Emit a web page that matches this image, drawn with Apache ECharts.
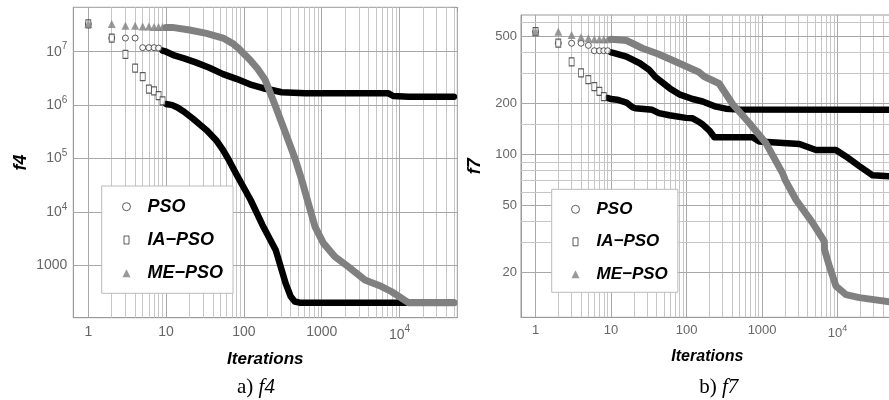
<!DOCTYPE html>
<html><head><meta charset="utf-8">
<script src="https://cdn.jsdelivr.net/npm/echarts@6/dist/echarts.min.js"></script>
<style>html,body{margin:0;padding:0;background:#fff}#c{width:889px;height:400px}</style>
</head><body><div id="c"></div>
<script>
// ---------- names / ticks ----------
const seriesNames = ['PSO', 'IA\u2212PSO', 'ME\u2212PSO'];
const xTickValues = [1, 10, 100, 1000, 10000];
const f4TickValues = [1000, 10000, 100000, 1000000, 10000000];
const f7TickValues = [20, 50, 100, 200, 500];
const f7MinorGridValues = [30, 40, 60, 70, 80, 90, 150, 300, 400, 600];

// ---------- f4 (left panel) data: [iteration, value] ----------
const psoF4Early = [[1,3.3e7],[2,1.8e7],[3,1.8e7],[4,1.8e7],[5,1.19e7],[6,1.19e7],[7,1.19e7],[8,1.17e7]];
const psoF4Band = [[9,1.05e7],[10,1.0e7],[13,8.4e6],[17,7.5e6],[24,6.3e6],[36,5.0e6],[54,3.8e6],[80,3.1e6],[119,2.45e6],[176,2.07e6],[228,1.92e6],[306,1.74e6],[610,1.66e6],[7200,1.66e6],[8300,1.48e6],[13000,1.44e6],[50000,1.43e6]];
const iaF4Early = [[1,3.3e7],[2,1.8e7],[3,8.9e6],[4,4.9e6],[5,3.4e6],[6,2.0e6],[7,1.85e6],[8,1.5e6],[9,1.2e6]];
const iaF4Band = [[10,1.05e6],[12,1.0e6],[14,9.0e5],[17,7.5e5],[22,5.6e5],[33,3.4e5],[44,2.2e5],[54,1.44e5],[65,9e4],[81,4.9e4],[122,1.67e4],[173,5.7e3],[256,1.94e3],[344,4.6e2],[400,2.6e2],[450,2.1e2],[520,2.0e2],[50000,2.0e2]];
const meF4Early = [[1,3.3e7],[2,3.3e7],[3,3.05e7],[4,3.05e7],[5,2.95e7],[6,2.95e7],[7,2.9e7],[8,2.9e7],[9,2.9e7]];
const meF4Band = [[10,2.85e7],[12,2.85e7],[20,2.55e7],[33,2.2e7],[54,1.8e7],[73,1.4e7],[88,1.1e7],[120,7e6],[150,4.8e6],[187,3e6],[251,1e6],[337,3.2e5],[454,1e5],[553,4e4],[673,1.45e4],[820,5.3e3],[1050,2.6e3],[1480,1.45e3],[2200,9.4e2],[3600,5.3e2],[5900,4.0e2],[7940,3.2e2],[13000,2.0e2],[50000,2.0e2]];

// ---------- f7 (right panel) data ----------
const psoF7Early = [[1,530],[2,453],[3,453],[4,453],[5,440],[6,409],[7,409],[8,409],[9,409]];
const psoF7Band = [[10,400],[11,396],[16,378],[24,345],[32,315],[39,285],[48,265],[60,245],[80,226],[120,212],[163,205],[245,191],[330,186],[500,184],[50000,183]];
const iaF7Early = [[1,530],[2,453],[3,352],[4,303],[5,276],[6,251],[7,235],[8,219]];
const iaF7Band = [[9,215],[10,212],[12,210],[16,202],[19,190],[21,187],[35,183],[43,175],[59,170],[98,164],[120,163],[147,155],[163,150],[200,138],[233,126],[750,126],[918,119],[3120,115],[5180,106],[9520,106],[12900,97],[19400,85],[29100,75],[50000,74]];
const meF7Early = [[1,530],[2,530],[3,507],[4,491],[5,484],[6,478],[7,478],[8,478],[9,478]];
const meF7Band = [[10,478],[16,470],[19,453],[26,423],[43,390],[72,352],[120,318],[147,305],[171,288],[269,262],[406,198],[676,153],[1127,116],[1872,77],[2020,70.6],[2810,53.8],[4670,39.3],[6670,30.5],[6700,27.3],[7770,21.8],[9520,16.6],[12900,14.8],[19400,14.2],[50000,13.4]];

// ---------- layout / styling ----------
const FONT = 'Liberation Sans';
const X_MIN = Math.pow(10, -0.193), X_MAX = Math.pow(10, 4.743);
const F4_MIN = Math.pow(10, 2.019), F4_MAX = Math.pow(10, 7.831);
const F7_MIN = Math.pow(10, 1.036), F7_MAX = Math.pow(10, 2.823);
const LABEL_COLOR = '#666';
const FRAME = '#9a9a9a';
const majorLine = {color: '#a8a8a8', width: 1, type: 'solid'};
const minorLine = {color: '#c6c6c6', width: 1, type: 'solid'};

function isPow10(v) { const e = Math.log10(v); return Math.abs(e - Math.round(e)) < 1e-9; }
const xGridValues = [];
for (let d = 0; d <= 4; d++) for (let k = 1; k <= 9; k++) { const v = k * Math.pow(10, d); if (v <= X_MAX) xGridValues.push(v); }

function powLabel(fs) {
  return function (v) {
    const e = Math.round(Math.log10(v));
    if (e >= 4) return '{b|10}{s|' + e + '}';
    return String(Math.round(v));
  };
}
function richFor(fs) {
  return { b: {fontSize: fs, color: LABEL_COLOR, fontFamily: FONT},
           s: {fontSize: fs - 4, color: LABEL_COLOR, fontFamily: FONT, padding: [0, 0, 10, 0]} };
}

function xAxisMain(gi, fs, gap) {
  return { type: 'log', gridIndex: gi, min: X_MIN, max: X_MAX, position: 'bottom',
    name: 'Iterations', nameLocation: 'middle', nameGap: gap,
    nameTextStyle: {fontFamily: FONT, fontSize: fs + 3, fontWeight: 'bold', fontStyle: 'italic', color: '#000'},
    axisLine: {show: true, lineStyle: {color: FRAME}},
    axisTick: {show: true, inside: true, length: 5, lineStyle: {color: '#999'}},
    axisLabel: {show: true, interval: 0, margin: 7, showMinLabel: false, showMaxLabel: false,
      color: LABEL_COLOR, fontSize: fs, fontFamily: FONT, formatter: powLabel(fs), rich: richFor(fs)},
    splitLine: {show: false}, minorTick: {show: false} };
}
function xAxisTop(gi) {
  return { type: 'log', gridIndex: gi, min: X_MIN, max: X_MAX, position: 'top',
    axisLine: {show: false}, axisTick: {show: true, inside: true, length: 5, lineStyle: {color: '#999'}},
    axisLabel: {show: false}, splitLine: {show: false} };
}

const f4Marks = xGridValues.map(v => ({xAxis: v, lineStyle: isPow10(v) ? majorLine : minorLine}))
  .concat(f4TickValues.map(v => ({yAxis: v, lineStyle: majorLine})));
const f7Marks = xGridValues.map(v => ({xAxis: v, lineStyle: isPow10(v) ? majorLine : minorLine}))
  .concat(f7MinorGridValues.map(v => ({yAxis: v, lineStyle: minorLine})))
  .concat(f7TickValues.map(v => ({yAxis: v, lineStyle: majorLine,
    label: {show: true, position: 'start', formatter: String(v), color: LABEL_COLOR, fontSize: 13, fontFamily: FONT, distance: 4}})));

function gridMarkLine(data) {
  return { silent: true, z: 1, symbol: ['none', 'none'], animation: false,
    label: {show: false}, emphasis: {disabled: true}, data: data };
}

const circleStyle = {color: '#fff', borderColor: '#333', borderWidth: 1};
const rectStyle = {color: '#fff', borderColor: '#333', borderWidth: 1};
const triStyle = {color: '#808080', borderWidth: 0};
const RECT_PATH = 'path://M0,0L5,0L5,8L0,8Z';

function early(name, data, idx, symbol, size, style, extra) {
  return Object.assign({ type: 'scatter', name: name, xAxisIndex: idx, yAxisIndex: idx, data: data,
    symbol: symbol, symbolSize: size, itemStyle: style, animation: false, z: 2 }, extra || {});
}
function band(name, data, idx, color, width) {
  return { type: 'line', name: name, xAxisIndex: idx, yAxisIndex: idx, data: data,
    showSymbol: false, symbol: 'none', animation: false, z: 2,
    lineStyle: {color: color, width: width, cap: 'round', join: 'round'}, itemStyle: {color: color} };
}

function legendFor(left, top, fs, pad, gap) {
  return { left: left, top: top, orient: 'vertical', selectedMode: false,
    backgroundColor: '#fff', borderColor: '#bbb', borderWidth: 1, borderRadius: 0,
    padding: pad, itemGap: gap, itemWidth: 8, itemHeight: 8,
    textStyle: {fontFamily: FONT, fontSize: fs, fontWeight: 'bold', fontStyle: 'italic', color: '#000', lineHeight: 20, padding: [0, 0, 0, 12]},
    data: [
      {name: seriesNames[0], icon: 'circle', itemStyle: circleStyle},
      {name: seriesNames[1], icon: RECT_PATH, itemStyle: rectStyle},
      {name: seriesNames[2], icon: 'triangle', itemStyle: triStyle}
    ] };
}

const chart = echarts.init(document.getElementById('c'), null, {renderer: 'canvas'});
chart.setOption({
  animation: false,
  backgroundColor: '#fff',
  textStyle: {fontFamily: FONT},
  grid: [
    {left: 73.3, top: 7.3, width: 384, height: 310.4, show: true, borderColor: FRAME, borderWidth: 1, backgroundColor: 'transparent', containLabel: false, outerBoundsMode: 'none'},
    {left: 521, top: 15, width: 372.7, height: 302.3, show: true, borderColor: FRAME, borderWidth: 1, backgroundColor: 'transparent', containLabel: false, outerBoundsMode: 'none'}
  ],
  xAxis: [xAxisMain(0, 14, 33), xAxisMain(1, 13, 31), xAxisTop(0), xAxisTop(1)],
  yAxis: [
    { type: 'log', gridIndex: 0, min: F4_MIN, max: F4_MAX, position: 'left',
      name: 'f4', nameLocation: 'middle', nameGap: 43, nameRotate: 90,
      nameTextStyle: {fontFamily: FONT, fontSize: 18, fontWeight: 'bold', fontStyle: 'italic', color: '#000'},
      axisLine: {show: true, lineStyle: {color: FRAME}},
      axisTick: {show: true, inside: true, length: 5, lineStyle: {color: '#999'}},
      axisLabel: {show: true, interval: 0, margin: 6, showMinLabel: false, showMaxLabel: false,
        color: LABEL_COLOR, fontSize: 14, fontFamily: FONT, formatter: powLabel(14), rich: richFor(14)},
      splitLine: {show: false} },
    { type: 'log', gridIndex: 1, min: F7_MIN, max: F7_MAX, position: 'left',
      name: 'f7', nameLocation: 'middle', nameGap: 37, nameRotate: 90,
      nameTextStyle: {fontFamily: FONT, fontSize: 18, fontWeight: 'bold', fontStyle: 'italic', color: '#000'},
      axisLine: {show: true, lineStyle: {color: FRAME}},
      axisTick: {show: false}, axisLabel: {show: false}, splitLine: {show: false} },
    { type: 'log', gridIndex: 0, min: F4_MIN, max: F4_MAX, position: 'right',
      axisLine: {show: false}, axisTick: {show: true, inside: true, length: 5, lineStyle: {color: '#999'}},
      axisLabel: {show: false}, splitLine: {show: false} },
    { type: 'log', gridIndex: 1, min: F7_MIN, max: F7_MAX, position: 'right',
      axisLine: {show: false}, axisTick: {show: false}, axisLabel: {show: false}, splitLine: {show: false} }
  ],
  legend: [legendFor(101.7, 186, 18, [10.7, 10, 10, 20.3], 13.3), legendFor(551.7, 189.3, 17, [10, 10, 8, 19.3], 12.5)],
  series: [
    early(seriesNames[0], psoF4Early, 0, 'circle', 6, circleStyle, {markLine: gridMarkLine(f4Marks)}),
    band(seriesNames[0], psoF4Band, 0, '#000', 6.5),
    early(seriesNames[1], iaF4Early, 0, 'rect', [5, 8], rectStyle),
    band(seriesNames[1], iaF4Band, 0, '#000', 6.5),
    early(seriesNames[2], meF4Early, 0, 'triangle', [8, 8], triStyle),
    band(seriesNames[2], meF4Band, 0, '#808080', 7),

    early(seriesNames[0], psoF7Early, 1, 'circle', 6, circleStyle, {markLine: gridMarkLine(f7Marks)}),
    band(seriesNames[0], psoF7Band, 1, '#000', 6.5),
    early(seriesNames[1], iaF7Early, 1, 'rect', [5, 8], rectStyle),
    band(seriesNames[1], iaF7Band, 1, '#000', 6.5),
    early(seriesNames[2], meF7Early, 1, 'triangle', [8, 8], triStyle),
    band(seriesNames[2], meF7Band, 1, '#808080', 7)
  ],
  graphic: [
    { type: 'text', x: 256, y: 387, silent: true,
      style: {text: '{n|a) }{i|f4}', align: 'center', verticalAlign: 'middle',
        rich: {n: {fontFamily: 'Liberation Serif', fontSize: 21, fill: '#000'},
               i: {fontFamily: 'Liberation Serif', fontSize: 21, fontStyle: 'italic', fill: '#000'}}} },
    { type: 'text', x: 718.7, y: 387, silent: true,
      style: {text: '{n|b) }{i|f7}', align: 'center', verticalAlign: 'middle',
        rich: {n: {fontFamily: 'Liberation Serif', fontSize: 21, fill: '#000'},
               i: {fontFamily: 'Liberation Serif', fontSize: 21, fontStyle: 'italic', fill: '#000'}}} }
  ]
});
</script></body></html>
